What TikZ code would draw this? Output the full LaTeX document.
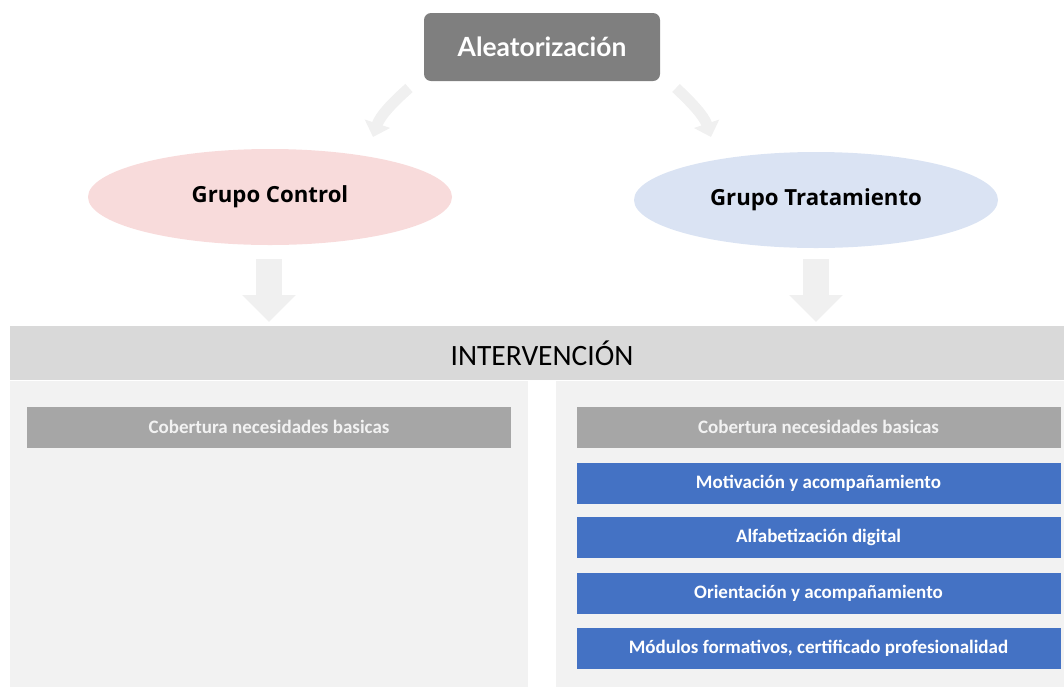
\documentclass[tikz,border=0pt]{standalone}
\usepackage{fontspec}
\setmainfont{Carlito}
\newfontfamily\latofont{Lato}
\newfontfamily\opensansfont{Open Sans}
\usetikzlibrary{arrows.meta,shapes.geometric}
\definecolor{aleagray}{HTML}{7F7F7F}
\definecolor{pinkfill}{HTML}{F8DBDB}
\definecolor{bluefill}{HTML}{DAE3F3}
\definecolor{arrowgray}{HTML}{F0F0F0}
\definecolor{bargray}{HTML}{D9D9D9}
\definecolor{panelgray}{HTML}{F2F2F2}
\definecolor{boxgray}{HTML}{A6A6A6}
\definecolor{boxblue}{HTML}{4472C4}
\tikzset{
  grupo/.style={ellipse, minimum width=364pt, minimum height=96pt, inner sep=0pt,
     font=\opensansfont\bfseries\fontsize{22.2}{26}\selectfont, text=black},
  itembox/.style={rectangle, inner sep=0pt, minimum height=41pt,
     font=\bfseries\fontsize{19}{22}\selectfont},
  graybox/.style={itembox, fill=boxgray, text=panelgray},
  bluebox/.style={itembox, fill=boxblue, text=white, minimum width=484pt},
  curvearrow/.style={draw=arrowgray, line width=11pt, -{Triangle[length=14pt,width=26pt]}},
  downarrow/.style={draw=arrowgray, line width=26pt, -{Triangle[length=27pt,width=52pt]}}
}
\begin{document}
\begin{tikzpicture}[x=1pt,y=-1pt]
\useasboundingbox (0,0) rectangle (1064,689);
% top node
\node[fill=aleagray, rounded corners=7pt, minimum width=236pt, minimum height=68pt,
  inner sep=0pt, text=white, font=\latofont\bfseries\fontsize{26.4}{30}\selectfont]
  (alea) at (542,47) {Aleatorización};
% ellipses
\node[grupo, fill=pinkfill] (gc) at (270,197) {Grupo Control};
\node[grupo, fill=bluefill] (gt) at (816,200) {Grupo Tratamiento};
% curved arrows
\coordinate (c1s) at (409,88);
\coordinate (c1e) at (373,137);
\coordinate (c2s) at (676,88);
\coordinate (c2e) at (711,137);
\draw[curvearrow] (c1s) .. controls (392,103) and (380,116) .. (c1e);
\draw[curvearrow] (c2s) .. controls (692,103) and (704,116) .. (c2e);
% intervention bar
\node[fill=bargray, minimum width=1054pt, minimum height=54pt, inner sep=0pt,
  anchor=north west] (inter) at (10,326) {};
\node[font=\fontsize{29.5}{34}\selectfont, text=black] (intertxt) at (542,353) {INTERVENCIÓN};
% down arrows
\coordinate (d1s) at (269,259);
\coordinate (d1e) at (269,322);
\coordinate (d2s) at (816,259);
\coordinate (d2e) at (816,322);
\draw[downarrow] (d1s) -- (d1e);
\draw[downarrow] (d2s) -- (d2e);
% panels
\node[fill=panelgray, minimum width=518pt, minimum height=306pt, inner sep=0pt, anchor=north west] (lpanel) at (10,381) {};
\node[fill=panelgray, minimum width=508pt, minimum height=306pt, inner sep=0pt, anchor=north west] (rpanel) at (556,381) {};
% left box
\node[graybox, minimum width=484pt] (lcob) at (269,427) {Cobertura necesidades basicas};
% right boxes
\node[graybox, minimum width=484pt] (rcob) at (818.5,427) {Cobertura necesidades basicas};
\node[bluebox] (mot) at (818.5,483) {Motivación y acompañamiento};
\node[bluebox] (alf) at (818.5,537) {Alfabetización digital};
\node[bluebox] (ori) at (818.5,593.5) {Orientación y acompañamiento};
\node[bluebox] (mod) at (818.5,648.5) {Módulos formativos, certificado profesionalidad};
\end{tikzpicture}
\end{document}
